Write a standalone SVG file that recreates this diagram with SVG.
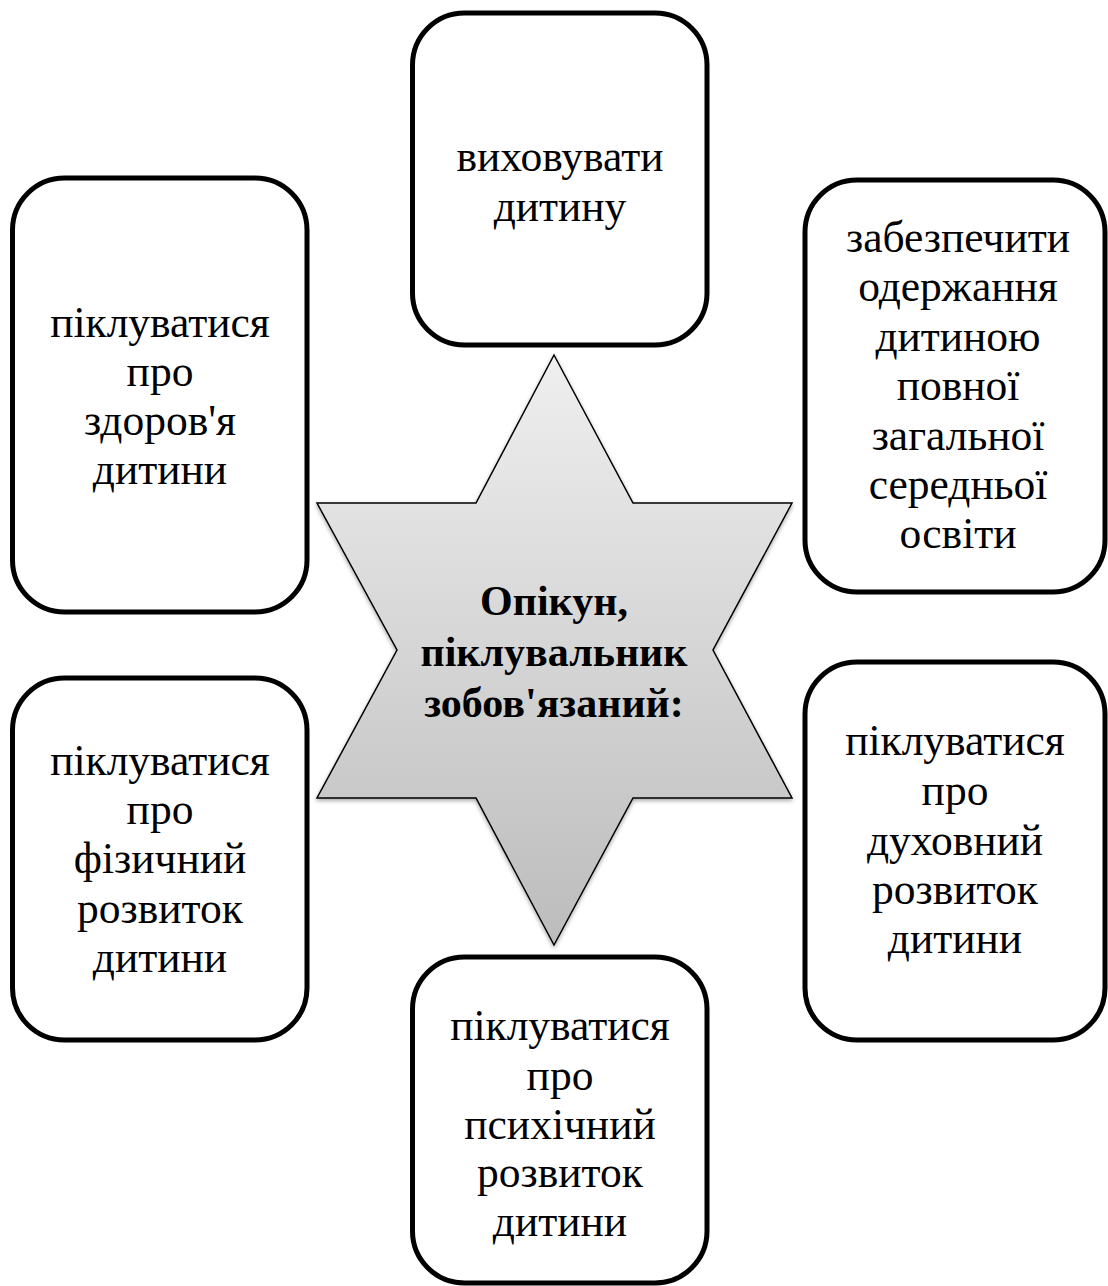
<svg xmlns="http://www.w3.org/2000/svg" width="1108" height="1286" viewBox="0 0 1108 1286">
<style>
.box{fill:#ffffff;stroke:#000000;stroke-width:5}
.t{font-family:"Liberation Serif","Times New Roman",serif;font-size:43.5px;fill:#000000;text-anchor:middle}
.b{font-weight:bold;font-size:42px}
</style>
<defs>
<linearGradient id="g" x1="0" y1="0" x2="0" y2="1">
<stop offset="0" stop-color="#efefef"/>
<stop offset="1" stop-color="#bcbcbc"/>
</linearGradient>
<filter id="sh" x="-10%" y="-10%" width="120%" height="120%">
<feGaussianBlur in="SourceAlpha" stdDeviation="2"/>
<feOffset dx="0" dy="2" result="o"/>
<feComponentTransfer><feFuncA type="linear" slope="0.35"/></feComponentTransfer>
<feMerge><feMergeNode/><feMergeNode in="SourceGraphic"/></feMerge>
</filter>
</defs>
<rect width="1108" height="1286" fill="#ffffff"/>
<g id="connectors"></g>
<g id="center">
<polygon points="554,355 633,503 792,503 713,650 792,798 633,798 554,945 476,798 317,798 397,650 317,503 476,503" fill="url(#g)" stroke="#000" stroke-width="1.5" stroke-linejoin="miter" filter="url(#sh)"/>
<text class="t b" x="554" y="615">Опікун,</text>
<text class="t b" x="554" y="666">піклувальник</text>
<text class="t b" x="554" y="717">зобов'язаний:</text>
</g>
<g id="top">
<rect class="box" x="412.5" y="13" width="294.5" height="332" rx="52"/>
<text class="t" x="560" y="171">виховувати</text>
<text class="t" x="560" y="221">дитину</text>
</g>
<g id="left-top">
<rect class="box" x="12.5" y="178" width="294.5" height="434" rx="52"/>
<text class="t" x="160" y="337">піклуватися</text>
<text class="t" x="160" y="386">про</text>
<text class="t" x="160" y="435">здоров'я</text>
<text class="t" x="160" y="484">дитини</text>
</g>
<g id="right-top">
<rect class="box" x="805" y="180" width="300" height="412" rx="52"/>
<text class="t" x="958" y="252">забезпечити</text>
<text class="t" x="958" y="301">одержання</text>
<text class="t" x="958" y="351">дитиною</text>
<text class="t" x="958" y="400">повної</text>
<text class="t" x="958" y="450">загальної</text>
<text class="t" x="958" y="499">середньої</text>
<text class="t" x="958" y="548">освіти</text>
</g>
<g id="left-bottom">
<rect class="box" x="12.5" y="678" width="294.5" height="362" rx="52"/>
<text class="t" x="160" y="775">піклуватися</text>
<text class="t" x="160" y="824">про</text>
<text class="t" x="160" y="873">фізичний</text>
<text class="t" x="160" y="923">розвиток</text>
<text class="t" x="160" y="972">дитини</text>
</g>
<g id="right-bottom">
<rect class="box" x="805" y="662" width="300" height="378" rx="52"/>
<text class="t" x="955" y="755">піклуватися</text>
<text class="t" x="955" y="805">про</text>
<text class="t" x="955" y="855">духовний</text>
<text class="t" x="955" y="904">розвиток</text>
<text class="t" x="955" y="953">дитини</text>
</g>
<g id="bottom">
<rect class="box" x="412.5" y="957" width="294.5" height="326" rx="52"/>
<text class="t" x="560" y="1040">піклуватися</text>
<text class="t" x="560" y="1090">про</text>
<text class="t" x="560" y="1139">психічний</text>
<text class="t" x="560" y="1187">розвиток</text>
<text class="t" x="560" y="1236">дитини</text>
</g>
</svg>
